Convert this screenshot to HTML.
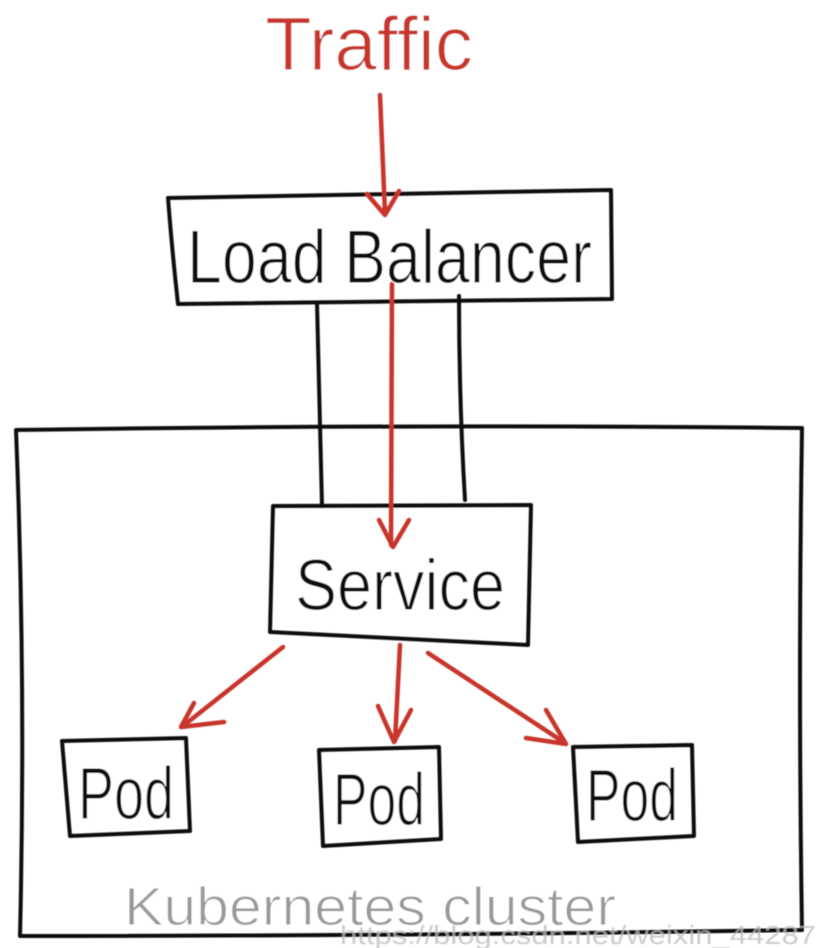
<!DOCTYPE html>
<html><head><meta charset="utf-8"><style>
html,body{margin:0;padding:0;background:#fff}
svg{display:block}
text{font-family:"Liberation Sans",sans-serif}
</style></head><body>
<svg width="816" height="948" viewBox="0 0 816 948" xmlns="http://www.w3.org/2000/svg">
<defs><filter id="b" x="-5%" y="-5%" width="110%" height="110%"><feGaussianBlur stdDeviation="0.6"/></filter></defs>
<g filter="url(#b)">
<g fill="none" stroke="#111" stroke-width="4" stroke-linecap="round" stroke-linejoin="round">
<path d="M168 198 Q380 194 611 190 L612 299 Q400 302 178 304 Q172 250 168 198 Z"/>
<path d="M317 303 Q319 400 322 506 M459 296 Q459 400 465 500"/>
<path d="M16 430 Q400 424 802 428 Q798 680 802 930 Q400 936 20 936 Q26 680 16 430 Z"/>
<path d="M273 506 L531 505 L528 645 L270 632 Z"/>
<path d="M62 741 L186 738 L190 831 L70 836 Z"/>
<path d="M319 750 L439 747 L441 839 L323 846 Z"/>
<path d="M573 747 L692 745 L694 836 L578 842 Z"/>
</g>
<g fill="none" stroke="#c8342a" stroke-width="4.5" stroke-linecap="round" stroke-linejoin="round">
<path d="M380 95 L385 213"/><path d="M367 194 L385 215 L399 191"/>
<path d="M392 284 L391 545"/><path d="M379 520 L393 547 L409 520"/>
<path d="M283 647 L183 726"/><path d="M194 703 L181 727 L224 722"/>
<path d="M400 645 L395 741"/><path d="M378 706 L394 742 L411 710"/>
<path d="M428 653 L565 743"/><path d="M526 738 L566 744 L546 710"/>
</g>
<g stroke="#fff" stroke-width="1.1" lengthAdjust="spacingAndGlyphs">
<text x="265" y="70" font-size="76" fill="#c8342a" textLength="208" lengthAdjust="spacingAndGlyphs">Traffic</text>
<text x="187" y="283" font-size="76" fill="#111" textLength="405" lengthAdjust="spacingAndGlyphs">Load Balancer</text>
<text x="295" y="610" font-size="72" fill="#111" textLength="210" lengthAdjust="spacingAndGlyphs">Service</text>
<text x="78" y="819" font-size="74" fill="#111" textLength="96" lengthAdjust="spacingAndGlyphs">Pod</text>
<text x="333" y="825" font-size="74" fill="#111" textLength="92" lengthAdjust="spacingAndGlyphs">Pod</text>
<text x="586" y="821" font-size="74" fill="#111" textLength="92" lengthAdjust="spacingAndGlyphs">Pod</text>
<text x="124" y="925" font-size="54" fill="#999" textLength="492" lengthAdjust="spacingAndGlyphs">Kubernetes cluster</text>
</g>
<text x="340" y="944" font-size="26" fill="#bbb" opacity=".75" textLength="476" lengthAdjust="spacingAndGlyphs">https://blog.csdn.net/weixin_44287</text>
</g>
</svg>
</body></html>
